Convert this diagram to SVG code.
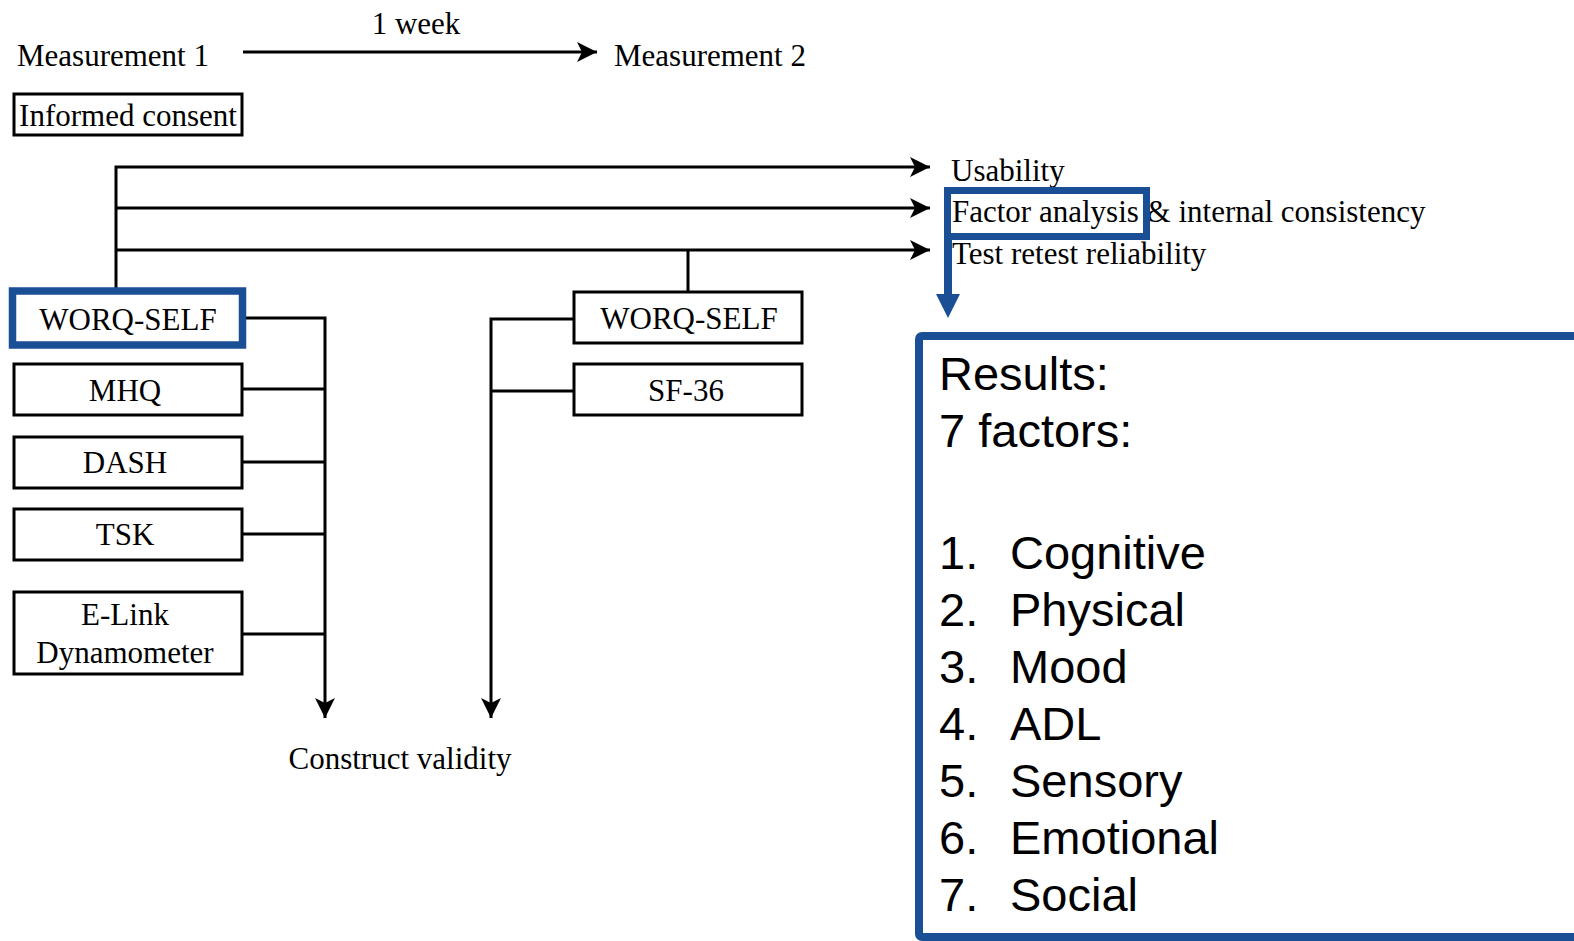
<svg xmlns="http://www.w3.org/2000/svg" width="1574" height="941" viewBox="0 0 1574 941">
<style>
.t{font-family:"Liberation Serif","Times New Roman",serif;font-size:31px;fill:#000}
.c{text-anchor:middle}
.box{fill:#fff;stroke:#000;stroke-width:3}
.bbox{fill:#fff;stroke:#1a4f96;stroke-width:7.5}
.ln{fill:none;stroke:#000;stroke-width:3}
.r{font-family:"Liberation Sans",Arial,sans-serif;font-size:47px;fill:#000}
</style>
<defs>
<marker id="ah" markerUnits="userSpaceOnUse" markerWidth="22" markerHeight="22" refX="20" refY="10" orient="auto" viewBox="0 0 22 20">
<path d="M0,0 L20,10 L0,20 L5,10 z" fill="#000"/>
</marker>
</defs>
<rect width="1574" height="941" fill="#fff"/>
<g id="connectors">
<line class="ln" x1="243" y1="52" x2="597" y2="52" marker-end="url(#ah)"/>
<polyline class="ln" points="116,290 116,167 930,167" marker-end="url(#ah)"/>
<line class="ln" x1="116" y1="208" x2="930" y2="208" marker-end="url(#ah)"/>
<line class="ln" x1="116" y1="250" x2="930" y2="250" marker-end="url(#ah)"/>
<line class="ln" x1="688" y1="250" x2="688" y2="291"/>
<polyline class="ln" points="246,318 325,318 325,718" marker-end="url(#ah)"/>
<line class="ln" x1="243" y1="389" x2="325" y2="389"/>
<line class="ln" x1="243" y1="462" x2="325" y2="462"/>
<line class="ln" x1="243" y1="534" x2="325" y2="534"/>
<line class="ln" x1="243" y1="634" x2="325" y2="634"/>
<polyline class="ln" points="574,319 491,319 491,718" marker-end="url(#ah)"/>
<line class="ln" x1="574" y1="391" x2="491" y2="391"/>
<line x1="948" y1="236" x2="948" y2="296" stroke="#1a4f96" stroke-width="8"/>
<path d="M936,294 L960,294 L948,318 z" fill="#1a4f96"/>
</g>
<g id="labels">
<text class="t c" x="416" y="34">1 week</text>
<text class="t" x="17" y="66">Measurement 1</text>
<text class="t" x="614" y="66">Measurement 2</text>
<text class="t" x="951" y="181">Usability</text>
<text class="t" x="952" y="222">Factor analysis &amp; internal consistency</text>
<text class="t" x="952" y="264">Test retest reliability</text>
<text class="t c" x="400" y="769">Construct validity</text>
</g>
<g id="informed-consent">
<rect class="box" x="14" y="94" width="228" height="41"/>
<text class="t c" x="128" y="126">Informed consent</text>
</g>
<g id="factor-highlight">
<rect x="947.5" y="190.5" width="199" height="46" fill="none" stroke="#1a4f96" stroke-width="7"/>
</g>
<g id="worq-self-1">
<rect class="bbox" x="12.5" y="291" width="230" height="54"/>
<text class="t c" x="128" y="330">WORQ-SELF</text>
</g>
<g id="mhq">
<rect class="box" x="14" y="364" width="228" height="51"/>
<text class="t c" x="125" y="401">MHQ</text>
</g>
<g id="dash">
<rect class="box" x="14" y="437" width="228" height="51"/>
<text class="t c" x="125" y="473">DASH</text>
</g>
<g id="tsk">
<rect class="box" x="14" y="509" width="228" height="51"/>
<text class="t c" x="125" y="545">TSK</text>
</g>
<g id="elink">
<rect class="box" x="14" y="592" width="228" height="82"/>
<text class="t c" x="125" y="625">E-Link</text>
<text class="t c" x="125" y="663">Dynamometer</text>
</g>
<g id="worq-self-2">
<rect class="box" x="574" y="292" width="228" height="51"/>
<text class="t c" x="689" y="329">WORQ-SELF</text>
</g>
<g id="sf36">
<rect class="box" x="574" y="364" width="228" height="51"/>
<text class="t c" x="686" y="401">SF-36</text>
</g>
<g id="results">
<rect x="919" y="336" width="700" height="601" rx="3" fill="#fff" stroke="#1a4f96" stroke-width="8"/>
<text class="r" x="939" y="390">Results:</text>
<text class="r" x="939" y="447">7 factors:</text>
<text class="r" x="939" y="569">1.</text><text class="r" x="1010" y="569">Cognitive</text>
<text class="r" x="939" y="626">2.</text><text class="r" x="1010" y="626">Physical</text>
<text class="r" x="939" y="683">3.</text><text class="r" x="1010" y="683">Mood</text>
<text class="r" x="939" y="740">4.</text><text class="r" x="1010" y="740">ADL</text>
<text class="r" x="939" y="797">5.</text><text class="r" x="1010" y="797">Sensory</text>
<text class="r" x="939" y="854">6.</text><text class="r" x="1010" y="854">Emotional</text>
<text class="r" x="939" y="911">7.</text><text class="r" x="1010" y="911">Social</text>
</g>
</svg>
